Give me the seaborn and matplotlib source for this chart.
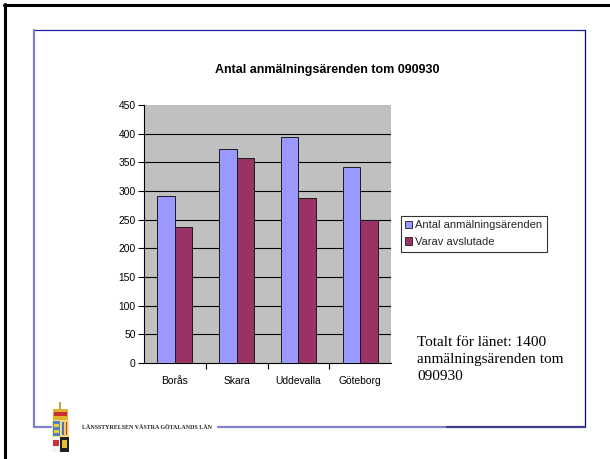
import matplotlib
matplotlib.use("Agg")
import matplotlib.pyplot as plt
import seaborn as sns
import pandas as pd
from matplotlib.lines import Line2D
from matplotlib.patches import Rectangle

categories = ["Borås", "Skara", "Uddevalla", "Göteborg"]
series_names = ["Antal anmälningsärenden", "Varav avslutade"]
antal = [291, 374, 394, 341]
avslutade = [237, 357, 288, 249]
y_ticks = [0, 50, 100, 150, 200, 250, 300, 350, 400, 450]
title = "Antal anmälningsärenden tom 090930"
note = "Totalt för länet: 1400\nanmälningsärenden tom\n090930"
footer = "LÄNSSTYRELSEN VÄSTRA GÖTALANDS LÄN"

df = pd.DataFrame({
    "Län": categories * 2,
    "Serie": [series_names[0]] * 4 + [series_names[1]] * 4,
    "Antal": antal + avslutade,
})

sns.set_theme(style="white")
plt.rcParams["font.family"] = ["Liberation Sans", "DejaVu Sans"]

W, H = 610, 459
fig = plt.figure(figsize=(W / 100, H / 100), dpi=100)
fig.patch.set_facecolor("white")

def fx(x):
    return x / W

def fy(y):
    return 1 - y / H

# plot area
left, right, top, bottom = 144, 391, 105, 363
ax = fig.add_axes([fx(left), fy(bottom), (right - left) / W, (bottom - top) / H])
palette = {series_names[0]: "#9999ff", series_names[1]: "#993366"}
sns.barplot(data=df, x="Län", y="Antal", hue="Serie", palette=palette,
            width=0.57, edgecolor="#1a1a1a", linewidth=0.7, saturation=1,
            ax=ax, legend=True, zorder=3)
ax.set_facecolor("#c0c0c0")
ax.set_ylim(0, 450)
ax.set_xlim(-0.5, 3.5)
ax.set_yticks(y_ticks)
ax.set_yticklabels([str(v) for v in y_ticks], fontsize=7.4, color="black")
for v in y_ticks[1:-1]:
    ax.axhline(v, color="black", lw=0.8, zorder=1)
ax.set_xticks(range(len(categories)))
ax.set_xticklabels(categories, fontsize=7.4, color="black")
ax.set_xticks([0.5, 1.5, 2.5], minor=True)
ax.tick_params(axis="x", which="major", length=0, pad=9)
ax.tick_params(axis="x", which="minor", length=4, width=0.8, color="black", direction="out", bottom=True)
ax.tick_params(axis="y", length=4, width=0.8, color="black", direction="out", left=True, pad=2)
ax.set_xlabel("")
ax.set_ylabel("")
for s in ["top", "right"]:
    ax.spines[s].set_visible(False)
for s in ["left", "bottom"]:
    ax.spines[s].set_color("black")
    ax.spines[s].set_linewidth(0.8)

handles, labels = ax.get_legend_handles_labels()
ax.legend_.remove()
leg = fig.legend(handles, labels, loc="upper left",
                 bbox_to_anchor=(fx(400.5), fy(215.5)), bbox_transform=fig.transFigure,
                 fontsize=8, frameon=True, fancybox=False, borderpad=0.42,
                 handlelength=0.65, handleheight=0.65, handletextpad=0.22,
                 labelspacing=0.62, borderaxespad=0)
leg.get_frame().set_edgecolor("black")
leg.get_frame().set_linewidth(0.8)
for h in leg.legend_handles:
    h.set_edgecolor("#1a1a1a")
    h.set_linewidth(0.6)

fig.text(fx(327), fy(69.5), title, ha="center", va="center",
         fontsize=9, fontweight="bold", color="black")
fig.text(fx(417), fy(336), note, ha="left", va="top",
         family=["Liberation Serif", "DejaVu Serif"], fontsize=11,
         color="black", linespacing=1.42)

# outer black border
fig.add_artist(Line2D([fx(4.5), fx(4.5)], [fy(4), fy(459)], color="black", lw=2.2,
                      transform=fig.transFigure))
fig.add_artist(Line2D([fx(3.5), fx(610)], [fy(5), fy(5)], color="black", lw=2.2,
                      transform=fig.transFigure))

# blue frame
light = "#8080d0"
dark = "#0000a0"
fig.add_artist(Line2D([fx(34), fx(585)], [fy(29.7), fy(29.7)], color="#1e1e9e", lw=0.9,
                      transform=fig.transFigure))
fig.add_artist(Line2D([fx(584.5), fx(584.5)], [fy(29.7), fy(427)], color=dark, lw=0.9,
                      transform=fig.transFigure))
fig.add_artist(Line2D([fx(34.2), fx(34.2)], [fy(29.7), fy(427)], color=light, lw=1.6,
                      transform=fig.transFigure))
fig.add_artist(Line2D([fx(33.5), fx(51)], [fy(426.7), fy(426.7)], color=light, lw=1.6,
                      transform=fig.transFigure))
fig.add_artist(Line2D([fx(218), fx(447)], [fy(426.7), fy(426.7)], color=light, lw=1.6,
                      transform=fig.transFigure))
fig.add_artist(Line2D([fx(447), fx(585)], [fy(426.7), fy(426.7)], color="#3c3c8c", lw=1.6,
                      transform=fig.transFigure))

# simple coat-of-arms emblem
def rect(x0, y0, x1, y1, c):
    fig.add_artist(Rectangle((fx(x0), fy(y1)), fx(x1) - fx(x0), fy(y0) - fy(y1),
                             facecolor=c, edgecolor="none", transform=fig.transFigure))

rect(59, 402, 61, 410, "#c8a040")
rect(53, 409, 68, 420, "#e0b030")
rect(54, 412, 67, 416, "#c83030")
rect(52, 420, 69, 437, "#f0e090")
rect(53, 421, 60, 436, "#5080c0")
rect(54, 424, 59, 427, "#e8d040")
rect(54, 430, 59, 433, "#e8d040")
rect(61, 421, 68, 436, "#f0d060")
rect(62, 422, 63.5, 435, "#5070c0")
rect(65.5, 422, 67, 435, "#c83030")
rect(52, 437, 60, 452, "#f4f4f4")
rect(53, 440, 59, 446, "#c83040")
rect(60, 437, 69, 452, "#202020")
rect(62, 440, 67, 448, "#e0c030")

fig.text(fx(82), fy(427.5), footer, ha="left", va="center",
         family=["Liberation Serif", "DejaVu Serif"], fontsize=4.3,
         fontweight="bold", color="#222222")

fig.savefig("out.png", dpi=100)
